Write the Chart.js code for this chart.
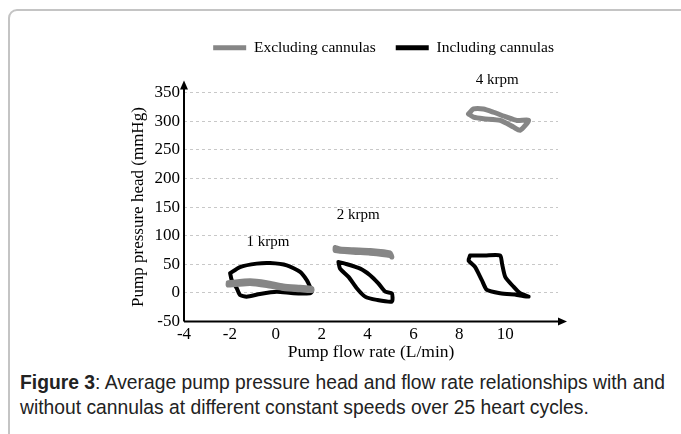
<!DOCTYPE html>
<html>
<head>
<meta charset="utf-8">
<script src="https://cdn.jsdelivr.net/npm/chart.js@4"></script>
<style>
  html, body { margin: 0; padding: 0; background: #fff; }
  body { width: 681px; height: 434px; position: relative; overflow: hidden; }
  #frame {
    position: absolute; left: 8px; top: 9px; width: 700px; height: 460px;
    border: 2px solid #c4c4c4; border-radius: 9px; box-sizing: border-box;
  }
  #wrap { position: absolute; left: 0; top: 0; width: 681px; height: 363px; }
  #caption {
    position: absolute; left: 20px; top: 370px;
    font-family: "Liberation Sans", Arial, sans-serif; font-size: 19.3px;
    line-height: 25px; color: #222; white-space: nowrap;
  }
</style>
</head>
<body>
<div id="frame"></div>
<div id="wrap"><canvas id="pumpChart"></canvas></div>
<div id="caption"><b>Figure 3</b>: Average pump pressure head and flow rate relationships with and<br>without cannulas at different constant speeds over 25 heart cycles.</div>
<script>
// 1 krpm
const exc1Flow = [-2.07, -1.12, -0.39, 0.33, 1.06, 1.57, 1.57, 1.06, 0.33, -0.39, -1.12, -2.07, -2.07]
const exc1Head = [17.8, 21.2, 17.8, 12.1, 9.8, 8.1, 4.3, 5.5, 7.8, 12.9, 16.4, 13.8, 17.8]
const inc1Flow = [-1.99, -1.56, -0.83, -0.25, 0.48, 1.06, 1.35, 1.49, 1.57, 1.49, 0.77, 0.04, -0.69, -1.27, -1.56, -1.70, -1.92, -1.99]
const inc1Head = [34.5, 45.3, 51.2, 52.2, 48.3, 36.7, 22.4, 10.9, 2.2, -0.5, -0.5, 2.2, -1.7, -6.4, -3.4, 8.1, 22.4, 34.5]

// 2 krpm
const exc2Flow = [2.59, 2.59, 3.38, 4.11, 4.98, 5.06, 4.98, 4.11, 3.38, 2.80, 2.59]
const exc2Head = [79.3, 74.1, 71.2, 69.5, 65.5, 62.6, 69.8, 74.1, 75.3, 76.7, 79.3]
const inc2Flow = [2.73, 3.02, 3.68, 4.11, 4.47, 4.77, 5.06, 5.06, 4.40, 3.89, 3.53, 3.17, 2.80, 2.73]
const inc2Head = [54.0, 51.2, 42.6, 31.0, 16.7, 2.2, -0.5, -15.0, -12.1, -6.4, 8.1, 28.1, 42.6, 54.0]

// 4 krpm
const exc4Flow = [8.40, 8.62, 9.05, 9.49, 10.07, 10.51, 11.02, 10.65, 10.36, 9.78, 9.05, 8.62, 8.40]
const exc4Head = [312.6, 321.2, 321.2, 315.5, 306.9, 301.2, 301.2, 284.0, 289.7, 301.2, 304.0, 306.9, 312.6]
const inc4Flow = [8.47, 9.12, 9.78, 9.86, 10.0, 10.36, 10.65, 11.02, 10.51, 9.78, 9.20, 8.98, 8.69, 8.40, 8.47]
const inc4Head = [65.5, 65.5, 65.5, 51.2, 28.1, 10.9, -0.5, -6.4, -3.4, -0.5, 5.2, 22.4, 45.3, 56.9, 65.5]

const speedLabels = ['1 krpm', '2 krpm', '4 krpm']
const speedLabelFlow = [-0.34, 3.59, 9.65]
const speedLabelHead = [88, 136, 372]

const GREY = '#868686'
const BLACK = '#000000'

function toPoints(xs, ys) {
  return xs.map((x, i) => ({ x, y: ys[i] }))
}

function loop(label, xs, ys, color, width) {
  return {
    label,
    data: toPoints(xs, ys),
    showLine: true,
    borderColor: color,
    backgroundColor: color,
    borderWidth: width,
    borderCapStyle: 'round',
    borderJoinStyle: 'round',
    pointRadius: 0,
    tension: 0.2,
    fill: false
  }
}

const datasets = [
  loop('Excluding cannulas', exc1Flow, exc1Head, GREY, 5),
  loop('Including cannulas', inc1Flow, inc1Head, BLACK, 4),
  loop('exc2', exc2Flow, exc2Head, GREY, 5),
  loop('inc2', inc2Flow, inc2Head, BLACK, 4),
  loop('exc4', exc4Flow, exc4Head, GREY, 5),
  loop('inc4', inc4Flow, inc4Head, BLACK, 4)
]

// legend spacing: extra room below it and a small shift to the right
const legendTweak = {
  id: 'legendTweak',
  beforeInit(chart) {
    const lg = chart.legend
    const fit = lg.fit
    lg.fit = function () {
      fit.call(this)
      this.height += 27
    }
    const draw = lg.draw
    lg.draw = function (area) {
      this.ctx.save()
      this.ctx.translate(16, 0)
      draw.call(this, area)
      this.ctx.restore()
    }
  }
}

// axis arrows + speed annotations
const extras = {
  id: 'extras',
  afterDraw(chart) {
    const { ctx, chartArea } = chart
    const xs = chart.scales.x
    const ys = chart.scales.y
    ctx.save()
    ctx.strokeStyle = '#000'
    ctx.fillStyle = '#000'
    ctx.lineWidth = 2
    const x0 = chartArea.left
    const y0 = chartArea.bottom
    ctx.beginPath()
    ctx.moveTo(x0, y0)
    ctx.lineTo(x0, chartArea.top - 8)
    ctx.moveTo(x0, y0)
    ctx.lineTo(chartArea.right + 4, y0)
    ctx.stroke()
    ctx.beginPath()
    ctx.moveTo(x0, chartArea.top - 12)
    ctx.lineTo(x0 - 4, chartArea.top - 3)
    ctx.lineTo(x0 + 4, chartArea.top - 3)
    ctx.closePath()
    ctx.fill()
    ctx.beginPath()
    ctx.moveTo(chartArea.right + 9, y0)
    ctx.lineTo(chartArea.right, y0 - 4)
    ctx.lineTo(chartArea.right, y0 + 4)
    ctx.closePath()
    ctx.fill()

    ctx.font = '15px "Liberation Serif", serif'
    ctx.textAlign = 'center'
    ctx.textBaseline = 'middle'
    speedLabels.forEach((t, i) => {
      ctx.fillText(t, xs.getPixelForValue(speedLabelFlow[i]), ys.getPixelForValue(speedLabelHead[i]))
    })
    ctx.restore()
  }
}

const serif = '"Liberation Serif", "Times New Roman", serif'

new Chart(document.getElementById('pumpChart'), {
  type: 'scatter',
  data: { datasets },
  plugins: [legendTweak, extras],
  options: {
    responsive: true,
    maintainAspectRatio: false,
    animation: false,
    layout: { padding: { top: 20, right: 123, bottom: 0, left: 128 } },
    plugins: {
      tooltip: { enabled: false },
      legend: {
        position: 'top',
        align: 'end',
        labels: {
          color: '#000',
          font: { family: serif, size: 15.5 },
          boxWidth: 33,
          boxHeight: 5,
          padding: 20,
          filter: (item) => item.datasetIndex < 2,
          generateLabels(chart) {
            return Chart.defaults.plugins.legend.labels.generateLabels(chart).map((l) => ({ ...l, lineWidth: 0 }))
          }
        }
      }
    },
    scales: {
      x: {
        type: 'linear',
        min: -4,
        max: 12.3,
        border: { display: false },
        grid: { display: false, drawTicks: false },
        ticks: {
          stepSize: 2,
          color: '#000',
          padding: 3,
          font: { family: serif, size: 17 },
          callback: (v) => (v <= 10 && Number.isInteger(v) ? v : '')
        },
        title: {
          display: true,
          text: 'Pump flow rate (L/min)',
          color: '#000',
          font: { family: serif, size: 17.5 },
          padding: { top: -6, bottom: 0 }
        }
      },
      y: {
        min: -50,
        max: 350,
        border: { display: false, dash: [3, 3] },
        grid: {
          color: (c) => (c.tick.value === -50 ? 'rgba(0,0,0,0)' : '#c8c8c8'),
          lineWidth: 1,
          drawTicks: false
        },
        ticks: {
          stepSize: 50,
          color: '#000',
          padding: 4,
          font: { family: serif, size: 17 }
        },
        title: {
          display: true,
          text: 'Pump pressure head (mmHg)',
          color: '#000',
          font: { family: serif, size: 17 },
          padding: { top: 0, bottom: 0 }
        },
        afterFit(scale) {
          scale.width = 56
        }
      }
    }
  }
})
</script>
</body>
</html>
